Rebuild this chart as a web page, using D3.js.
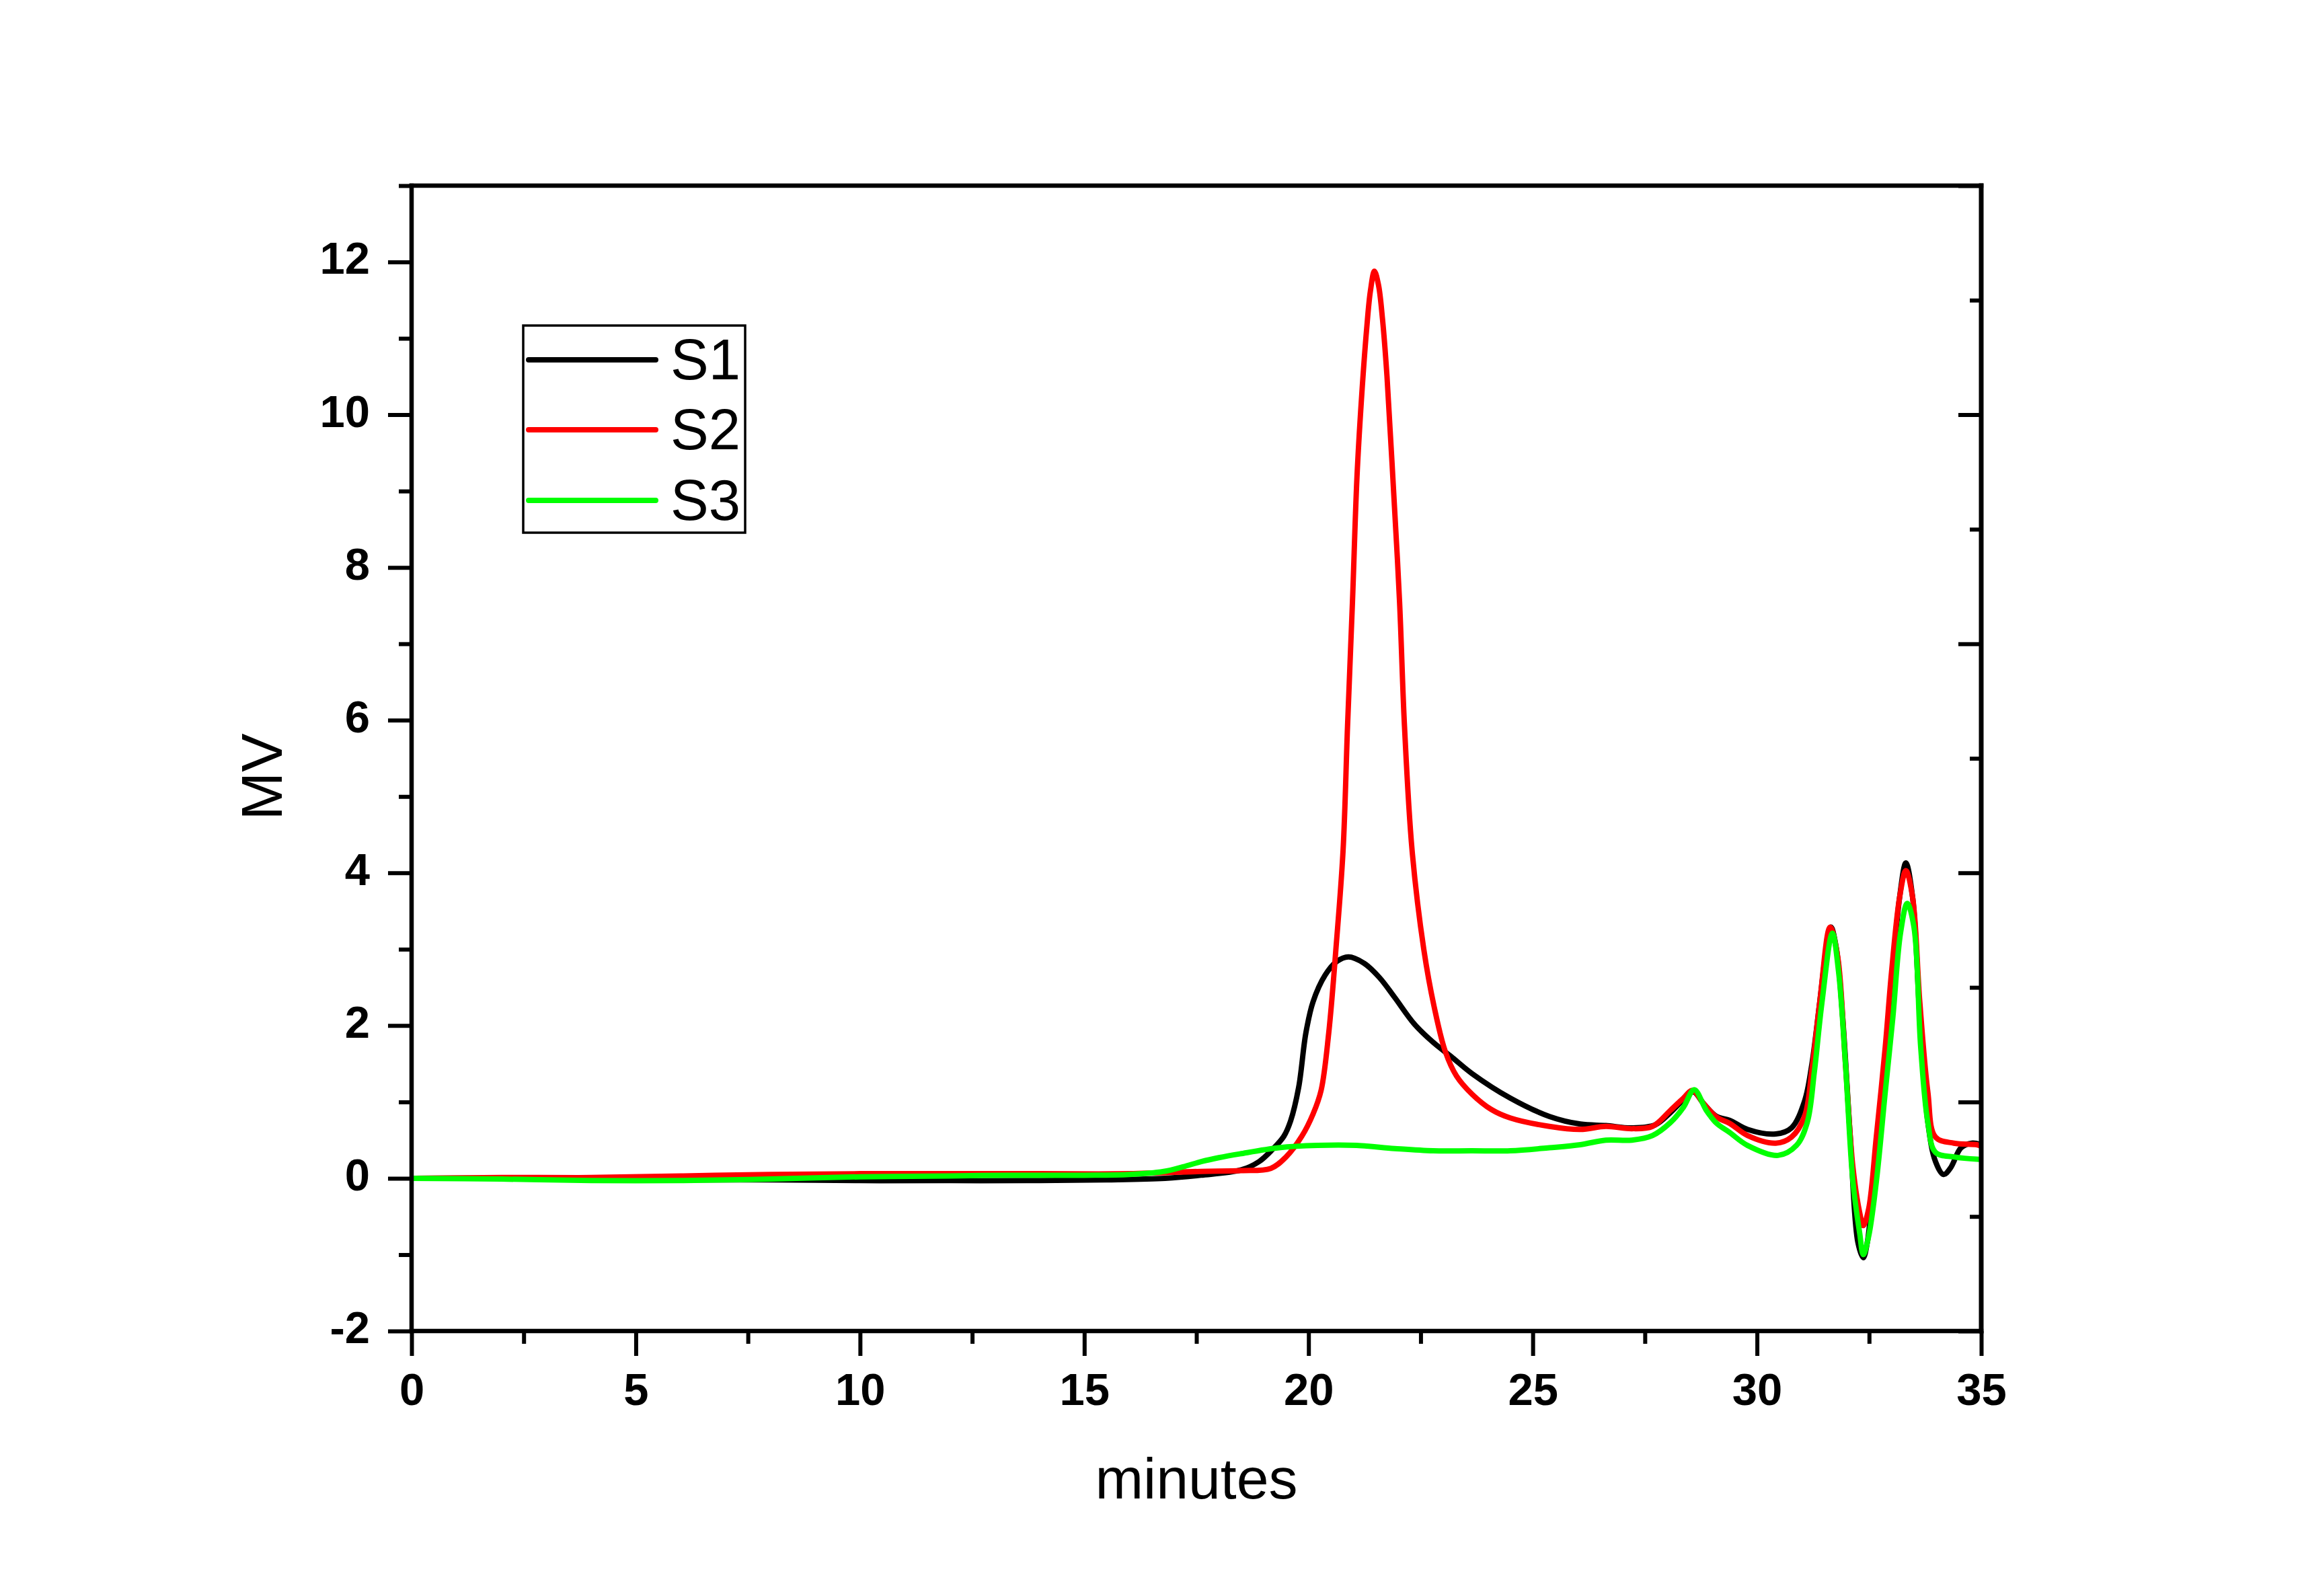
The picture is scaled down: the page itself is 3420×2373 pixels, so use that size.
<!DOCTYPE html>
<html>
<head>
<meta charset="utf-8">
<script src="https://cdn.jsdelivr.net/npm/d3@7"></script>
<style>
  html, body { margin: 0; padding: 0; background: #ffffff; }
  svg { display: block; }
  text { font-family: Arial, "Liberation Sans", sans-serif; fill: #000; }
</style>
</head>
<body>
<script>
// ---------------- data ----------------
const seriesNames = ["S1", "S2", "S3"];
const seriesColors = ["#000000", "#ff0000", "#00ff00"];

const s1Minutes = [0, 2, 4, 6, 8, 10, 12, 14, 15.5, 16.8, 17.6, 18.5, 18.9, 19.2, 19.45, 19.6, 19.78, 19.94, 20.1, 20.37, 20.63, 20.89, 21.23, 21.58, 21.92, 22.36, 22.78, 23.21, 23.65, 24.5, 25.37, 26.06, 26.63, 27.21, 27.73, 28.07, 28.36, 28.58, 28.82, 29.1, 29.39, 29.79, 30.42, 30.77, 31.06, 31.22, 31.4, 31.54, 31.65, 31.77, 31.91, 32.08, 32.25, 32.37, 32.46, 32.66, 32.86, 33.0, 33.18, 33.32, 33.47, 33.63, 33.81, 33.98, 34.16, 34.32, 34.55, 34.79, 35];
const s1MV = [0, 0, -0.01, -0.02, -0.02, -0.03, -0.03, -0.03, -0.02, 0, 0.04, 0.11, 0.22, 0.38, 0.55, 0.75, 1.19, 1.9, 2.31, 2.66, 2.84, 2.9, 2.82, 2.63, 2.37, 2.02, 1.78, 1.58, 1.37, 1.05, 0.81, 0.71, 0.69, 0.66, 0.70, 0.86, 1.03, 1.13, 0.97, 0.81, 0.76, 0.64, 0.58, 0.66, 1.01, 1.48, 2.31, 2.98, 3.29, 3.01, 2.11, 0.54, -0.84, -1.04, -0.84, 0.34, 1.32, 2.5, 3.68, 4.13, 3.68, 2.11, 0.73, 0.22, 0.05, 0.14, 0.4, 0.46, 0.44];

const s2Minutes = [0, 2, 4, 6, 8, 10, 12, 14, 16, 17.6, 18.5, 19.16, 19.5, 19.85, 20.1, 20.28, 20.45, 20.62, 20.77, 20.87, 20.98, 21.08, 21.18, 21.3, 21.38, 21.47, 21.56, 21.65, 21.75, 21.88, 22.03, 22.14, 22.31, 22.57, 22.8, 23.05, 23.3, 23.65, 24.08, 24.5, 25.37, 26.06, 26.63, 27.21, 27.67, 28.07, 28.36, 28.56, 28.82, 29.1, 29.39, 29.79, 30.42, 30.77, 31.06, 31.22, 31.4, 31.63, 31.8, 31.97, 32.14, 32.29, 32.37, 32.49, 32.66, 32.86, 33.0, 33.18, 33.32, 33.47, 33.63, 33.81, 33.98, 34.39, 34.9, 35];
const s2MV = [0, 0.01, 0.01, 0.03, 0.05, 0.06, 0.06, 0.06, 0.06, 0.09, 0.1, 0.13, 0.28, 0.55, 0.84, 1.15, 1.9, 3.07, 4.29, 5.92, 7.55, 9.18, 10.2, 11.15, 11.62, 11.88, 11.7, 11.25, 10.5, 9.18, 7.55, 5.92, 4.29, 3.0, 2.25, 1.66, 1.34, 1.1, 0.9, 0.79, 0.68, 0.64, 0.68, 0.65, 0.68, 0.89, 1.05, 1.15, 0.97, 0.8, 0.72, 0.56, 0.46, 0.54, 0.81, 1.4, 2.31, 3.29, 2.9, 1.52, 0.14, -0.45, -0.62, -0.4, 0.54, 1.72, 2.7, 3.68, 4.03, 3.68, 2.31, 1.13, 0.54, 0.46, 0.44, 0.42];

const s3Minutes = [0, 2, 4, 6, 8, 10, 12, 13.3, 15, 16.0, 16.77, 17.2, 17.62, 18.0, 18.47, 19.34, 20.2, 21.07, 21.92, 22.78, 23.64, 24.5, 25.37, 26.06, 26.63, 27.21, 27.67, 28.07, 28.36, 28.6, 28.87, 29.1, 29.39, 29.79, 30.47, 30.88, 31.12, 31.28, 31.45, 31.68, 31.82, 31.97, 32.14, 32.29, 32.37, 32.49, 32.66, 32.86, 33.03, 33.2, 33.35, 33.5, 33.65, 33.81, 33.98, 34.39, 34.9, 35];
const s3MV = [0, -0.01, -0.03, -0.03, -0.01, 0.02, 0.03, 0.04, 0.04, 0.05, 0.09, 0.15, 0.22, 0.27, 0.32, 0.4, 0.43, 0.43, 0.39, 0.36, 0.36, 0.36, 0.4, 0.44, 0.5, 0.5, 0.56, 0.73, 0.93, 1.16, 0.89, 0.72, 0.6, 0.43, 0.3, 0.43, 0.73, 1.4, 2.31, 3.21, 2.7, 1.52, -0.05, -0.72, -1.0, -0.76, -0.05, 1.13, 2.11, 3.21, 3.6, 3.29, 1.72, 0.73, 0.34, 0.28, 0.25, 0.25];

const xMajorTicks = [0, 5, 10, 15, 20, 25, 30, 35];
const xMinorTicks = [2.5, 7.5, 12.5, 17.5, 22.5, 27.5, 32.5];
const yMajorTicks = [-2, 0, 2, 4, 6, 8, 10, 12];
const yMinorTicks = [-1, 1, 3, 5, 7, 9, 11, 13];
const rightMajorTicks = [0, 2, 4, 6, 8, 10];
const rightMinorTicks = [1, 3, 5, 7, 9];

const xTitle = "minutes";
const yTitle = "MV";

(function () {
// ---------------- layout ----------------
const W = 3420, H = 2373;
const pL = 612, pR = 2946, pT = 276, pB = 1979;

const svg = d3.select("body").append("svg")
  .attr("width", W).attr("height", H)
  .attr("viewBox", `0 0 ${W} ${H}`);
svg.append("rect").attr("width", W).attr("height", H).attr("fill", "#fff");

const x = d3.scaleLinear().domain([0, 35]).range([pL, pR]);
const y = d3.scaleLinear().domain([-2, 13]).range([pB, pT]);
const yR = d3.scaleLinear().domain([0, 10]).range([pB, pT]);

// ---------------- curves ----------------
const seriesData = [
  s1Minutes.map((t, i) => ({ t, v: s1MV[i] })),
  s2Minutes.map((t, i) => ({ t, v: s2MV[i] })),
  s3Minutes.map((t, i) => ({ t, v: s3MV[i] }))
];

const line = d3.line()
  .x(d => x(d.t))
  .y(d => y(d.v))
  .curve(d3.curveCatmullRom.alpha(0.5));

svg.append("defs").append("clipPath").attr("id", "plotclip")
  .append("rect").attr("x", pL).attr("y", pT)
  .attr("width", pR - pL).attr("height", pB - pT);

const curves = svg.append("g").attr("clip-path", "url(#plotclip)");
seriesData.forEach((data, i) => {
  curves.append("path")
    .datum(data)
    .attr("d", line)
    .attr("fill", "none")
    .attr("stroke", seriesColors[i])
    .attr("stroke-width", 8)
    .attr("stroke-linejoin", "round")
    .attr("stroke-linecap", "round");
});

// ---------------- axes ----------------
const tickW = 6;
const fmt = d => String(d);
function styleAxis(g) {
  g.select(".domain").remove();
  g.selectAll(".tick line").attr("stroke", "#000").attr("stroke-width", tickW);
  g.selectAll(".tick text")
    .attr("fill", "#000")
    .style("font-family", "Arial, 'Liberation Sans', sans-serif")
    .style("font-weight", "bold")
    .style("font-size", "67px");
}

// bottom axis
svg.append("g").attr("transform", `translate(0,${pB})`)
  .call(d3.axisBottom(x).tickValues(xMajorTicks).tickSize(37).tickSizeOuter(0).tickPadding(25).tickFormat(fmt))
  .call(styleAxis);
svg.append("g").attr("transform", `translate(0,${pB})`)
  .call(d3.axisBottom(x).tickValues(xMinorTicks).tickSize(19).tickSizeOuter(0).tickFormat(""))
  .call(styleAxis);

// left axis
const leftG = svg.append("g").attr("transform", `translate(${pL},0)`)
  .call(d3.axisLeft(y).tickValues(yMajorTicks).tickSize(35).tickSizeOuter(0).tickPadding(27).tickFormat(fmt))
  .call(styleAxis);
leftG.selectAll(".tick text").attr("dy", "0.26em");
svg.append("g").attr("transform", `translate(${pL},0)`)
  .call(d3.axisLeft(y).tickValues(yMinorTicks).tickSize(19).tickSizeOuter(0).tickFormat(""))
  .call(styleAxis);

// right axis (inward ticks, no labels)
svg.append("g").attr("transform", `translate(${pR},0)`)
  .call(d3.axisRight(yR).tickValues(rightMajorTicks).tickSize(-34).tickSizeOuter(0).tickFormat(""))
  .call(styleAxis);
svg.append("g").attr("transform", `translate(${pR},0)`)
  .call(d3.axisRight(yR).tickValues(rightMinorTicks).tickSize(-17).tickSizeOuter(0).tickFormat(""))
  .call(styleAxis);

// frame
const frame = svg.append("g").attr("stroke", "#000").attr("stroke-linecap", "square");
frame.append("line").attr("x1", pL).attr("x2", pR).attr("y1", pT).attr("y2", pT).attr("stroke-width", 6.5);
frame.append("line").attr("x1", pL).attr("x2", pR).attr("y1", pB).attr("y2", pB).attr("stroke-width", 6.5);
frame.append("line").attr("x1", pL).attr("x2", pL).attr("y1", pT).attr("y2", pB).attr("stroke-width", 6.5);
frame.append("line").attr("x1", pR).attr("x2", pR).attr("y1", pT).attr("y2", pB).attr("stroke-width", 7);

// axis titles
svg.append("text")
  .attr("x", (pL + pR) / 2).attr("y", 2228)
  .attr("text-anchor", "middle")
  .style("font-size", "86px")
  .text(xTitle);

svg.append("text")
  .attr("transform", `translate(419,1155) rotate(-90)`)
  .attr("text-anchor", "middle")
  .style("font-size", "86px")
  .text(yTitle);

// ---------------- legend ----------------
const legend = svg.append("g");
legend.append("rect")
  .attr("x", 778).attr("y", 484).attr("width", 330).attr("height", 308)
  .attr("fill", "#fff").attr("stroke", "#000").attr("stroke-width", 3.5);
const legendRowY = [535, 639, 744];
seriesNames.forEach((name, i) => {
  legend.append("line")
    .attr("x1", 786).attr("x2", 975)
    .attr("y1", legendRowY[i]).attr("y2", legendRowY[i])
    .attr("stroke", seriesColors[i]).attr("stroke-width", 8)
    .attr("stroke-linecap", "round");
  legend.append("text")
    .attr("x", 997).attr("y", legendRowY[i] + 29)
    .style("font-size", "85px")
    .text(name);
});
})();
</script>
</body>
</html>
